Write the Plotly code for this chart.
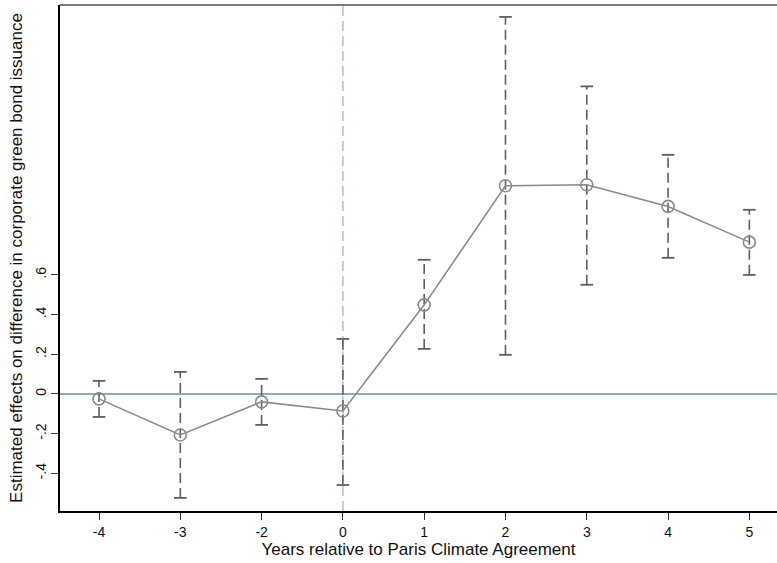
import plotly.graph_objects as go

years = ["-4", "-3", "-2", "0", "1", "2", "3", "4", "5"]
estimates = [-0.025, -0.207, -0.040, -0.086, 0.449, 1.049, 1.054, 0.945, 0.765]
ci_upper = [0.066, 0.111, 0.076, 0.277, 0.676, 1.90, 1.55, 1.205, 0.928]
ci_lower = [-0.116, -0.524, -0.156, -0.459, 0.227, 0.197, 0.55, 0.686, 0.600]
ytick_vals = [-0.4, -0.2, 0, 0.2, 0.4, 0.6]
ytick_text = ["-.4", "-.2", "0", ".2", ".4", ".6"]

idx = list(range(len(years)))
ERR_COLOR = "#5f5f5f"
LINE_COLOR = "#8a8a8a"

fig = go.Figure()

# dashed CI whiskers
wx, wy = [], []
for i, lo, hi in zip(idx, ci_lower, ci_upper):
    wx += [i, i, None]
    wy += [lo, hi, None]
fig.add_trace(go.Scatter(x=wx, y=wy, mode="lines",
                         line=dict(color=ERR_COLOR, width=1.6, dash="10px,5px"),
                         hoverinfo="skip", showlegend=False))
# caps
fig.add_trace(go.Scatter(x=idx + idx, y=ci_upper + ci_lower, mode="markers",
                         marker=dict(symbol="line-ew", size=9,
                                     line=dict(color=ERR_COLOR, width=1.8)),
                         hoverinfo="skip", showlegend=False))
# estimates
fig.add_trace(go.Scatter(x=idx, y=estimates, mode="lines+markers",
                         line=dict(color=LINE_COLOR, width=1.6),
                         marker=dict(symbol="circle-open", size=12,
                                     line=dict(color="#666666", width=1.6)),
                         showlegend=False))

zero_idx = years.index("0")
fig.add_shape(type="line", xref="x", yref="paper", x0=zero_idx, x1=zero_idx, y0=0, y1=1,
              line=dict(color="#a9c4c2", width=1.5, dash="10px,5px"), layer="below")
fig.add_shape(type="line", xref="paper", yref="y", x0=0, x1=1, y0=0, y1=0,
              line=dict(color="#6e8ea6", width=1.5), layer="below")
fig.add_shape(type="line", xref="paper", yref="paper", x0=0, x1=1, y0=1, y1=1,
              line=dict(color="#7a7a7a", width=2))

fig.update_layout(
    width=777, height=563,
    margin=dict(l=60, r=0, t=5, b=52, autoexpand=False),
    paper_bgcolor="white", plot_bgcolor="white",
    font=dict(family="Liberation Sans, Arial, sans-serif", size=14, color="#111"),
    xaxis=dict(range=[-0.48, 8.34], tickmode="array", tickvals=idx, ticktext=years,
               showgrid=False, zeroline=False, showline=True, linecolor="black",
               linewidth=1.5, ticks="outside", ticklen=7, tickcolor="#333",
               tickfont=dict(size=14), automargin=False,
               title=dict(text="Years relative to Paris Climate Agreement",
                          font=dict(size=17), standoff=0)),
    yaxis=dict(range=[-0.59, 1.96], tickmode="array", tickvals=ytick_vals, ticktext=ytick_text,
               tickangle=-90, showgrid=False, zeroline=False, showline=True,
               linecolor="black", linewidth=1.5, ticks="outside", ticklen=7,
               tickcolor="#333", tickfont=dict(size=14), automargin=False,
               title=dict(text="Estimated effects on difference in corporate green bond issuance",
                          font=dict(size=17), standoff=6)),
)

fig.write_html("out.html", config={"displayModeBar": False},
               post_script="document.body.style.margin='0';document.body.style.overflow='hidden';")
